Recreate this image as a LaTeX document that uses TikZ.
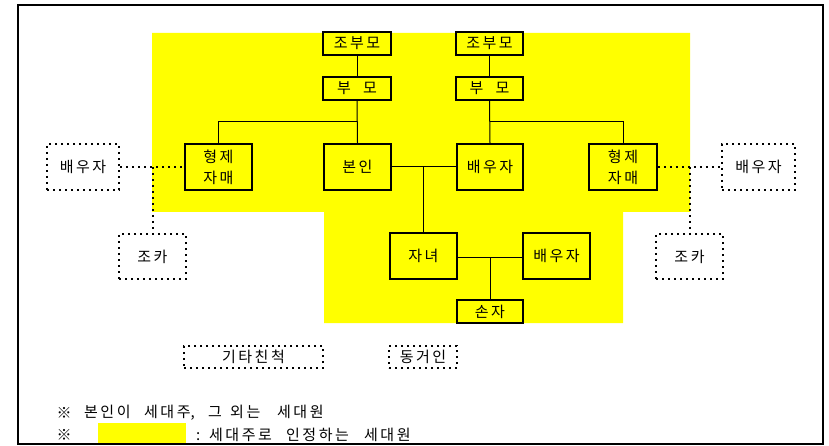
\documentclass[tikz,border=0pt]{standalone}
\usepackage{fontspec}
\newfontfamily\kr{Noto Sans CJK KR}
\newcommand\wordbox[2]{\makebox[#1pt][l]{#2}}
% extra spacing between Hangul syllables
\newXeTeXintercharclass\HanCls
\makeatletter
\count@="AC00
\loop
  \XeTeXcharclass\count@=\HanCls
  \ifnum\count@<"D7A3
  \advance\count@ by 1
\repeat
\makeatother
\XeTeXinterchartoks\HanCls\HanCls={\kern2.5pt}
\XeTeXinterchartokenstate=1
\definecolor{hl}{RGB}{255,255,0}
\tikzset{
  solidbox/.style={draw=black, line width=1.6pt, fill=hl, inner sep=0pt, align=center, font=\kr\fontsize{15}{21}\selectfont},
  dotbox/.style={draw=black, line width=2pt, dash pattern=on 2pt off 4pt, inner sep=0pt, align=center, font=\kr\fontsize{15}{21}\selectfont},
  conn/.style={draw=black, line width=1pt},
  dotconn/.style={draw=black, line width=2pt, dash pattern=on 2pt off 4pt},
  legend/.style={inner sep=0pt, font=\kr\fontsize{15}{17}\selectfont}
}
\begin{document}
\begin{tikzpicture}[x=1pt,y=-1pt]
\useasboundingbox (0,0) rectangle (829,446);
% highlighted region
\fill[hl] (152,33) -- (690,33) -- (690,212) -- (623,212) -- (623,323) -- (324,323) -- (324,212) -- (152,212) -- cycle;
\fill[hl] (98,423) rectangle (186,445);
% frame
\draw[line width=2pt] (18,5) rectangle (823,444);
% solid boxes
\node[solidbox, minimum width=68pt, minimum height=23pt] (gp1) at (357,43.5) {조부모};
\node[solidbox, minimum width=67pt, minimum height=23pt] (gp2) at (489.5,43.5) {조부모};
\node[solidbox, minimum width=68pt, minimum height=23pt] (p1) at (357,88.5) {부\hspace{12pt}모};
\node[solidbox, minimum width=67pt, minimum height=23pt] (p2) at (489.5,88.5) {부\hspace{12pt}모};
\node[solidbox, minimum width=67pt, minimum height=46pt] (sib1) at (218.5,167) {형제\\자매};
\node[solidbox, minimum width=67pt, minimum height=46pt] (me) at (357.5,167) {본인};
\node[solidbox, minimum width=66pt, minimum height=46pt] (sp) at (490,167) {배우자};
\node[solidbox, minimum width=68pt, minimum height=46pt] (sib2) at (623,167) {형제\\자매};
\node[solidbox, minimum width=67pt, minimum height=46pt] (ch) at (423.5,256) {자녀};
\node[solidbox, minimum width=67pt, minimum height=46pt] (chsp) at (556.5,256) {배우자};
\node[solidbox, minimum width=66pt, minimum height=23pt] (gc) at (490,311.5) {손자};
% dotted boxes
\node[dotbox, minimum width=72pt, minimum height=46pt] (osp1) at (83,167) {배우자};
\node[dotbox, minimum width=67pt, minimum height=45pt] (nep1) at (152.5,256.5) {조카};
\node[dotbox, minimum width=73pt, minimum height=46pt] (osp2) at (758.5,167) {배우자};
\node[dotbox, minimum width=67pt, minimum height=45pt] (nep2) at (689.5,256.5) {조카};
\node[dotbox, minimum width=139pt, minimum height=22pt] (etc) at (253.5,357) {기타친척};
\node[dotbox, minimum width=68pt, minimum height=22pt] (cohab) at (423,357) {동거인};
% junction coordinates
\coordinate (j1) at (357,122);
\coordinate (j2) at (490,122);
\coordinate (j3) at (423.5,167);
\coordinate (j4) at (490,257);
\coordinate (d1) at (152.5,167);
\coordinate (d2) at (689.5,167);
% connectors
\draw[conn] (gp1.south) -- (p1.north);
\draw[conn] (gp2.south) -- (p2.north);
\draw[conn] (p1.south) -- (me.north);
\draw[conn] (sib1.north) |- (j1);
\draw[conn] (p2.south) -- (sp.north);
\draw[conn] (sib2.north) |- (j2);
\draw[conn] (me.east) -- (sp.west);
\draw[conn] (j3) -- (ch.north);
\draw[conn] (ch.east |- j4) -- (chsp.west |- j4);
\draw[conn] (j4) -- (gc.north);
\draw[dotconn] (osp1.east) -- (sib1.west);
\draw[dotconn] (d1) -- (nep1.north);
\draw[dotconn] (sib2.east) -- (osp2.west);
\draw[dotconn] (d2) -- (nep2.north);
% legend
\node[legend] (m1) at (64,413) {※};
\node[legend, anchor=west] (l1) at (84,413) {\wordbox{60}{본인이}\wordbox{64}{세대주,}\wordbox{22}{그}\wordbox{47}{외는}세대원};
\node[legend] (m2) at (64,435) {※};
\node[legend, anchor=west] (l2) at (196,435) {\wordbox{13}{:}\wordbox{77}{세대주로}\wordbox{78}{인정하는}세대원};
\end{tikzpicture}
\end{document}
